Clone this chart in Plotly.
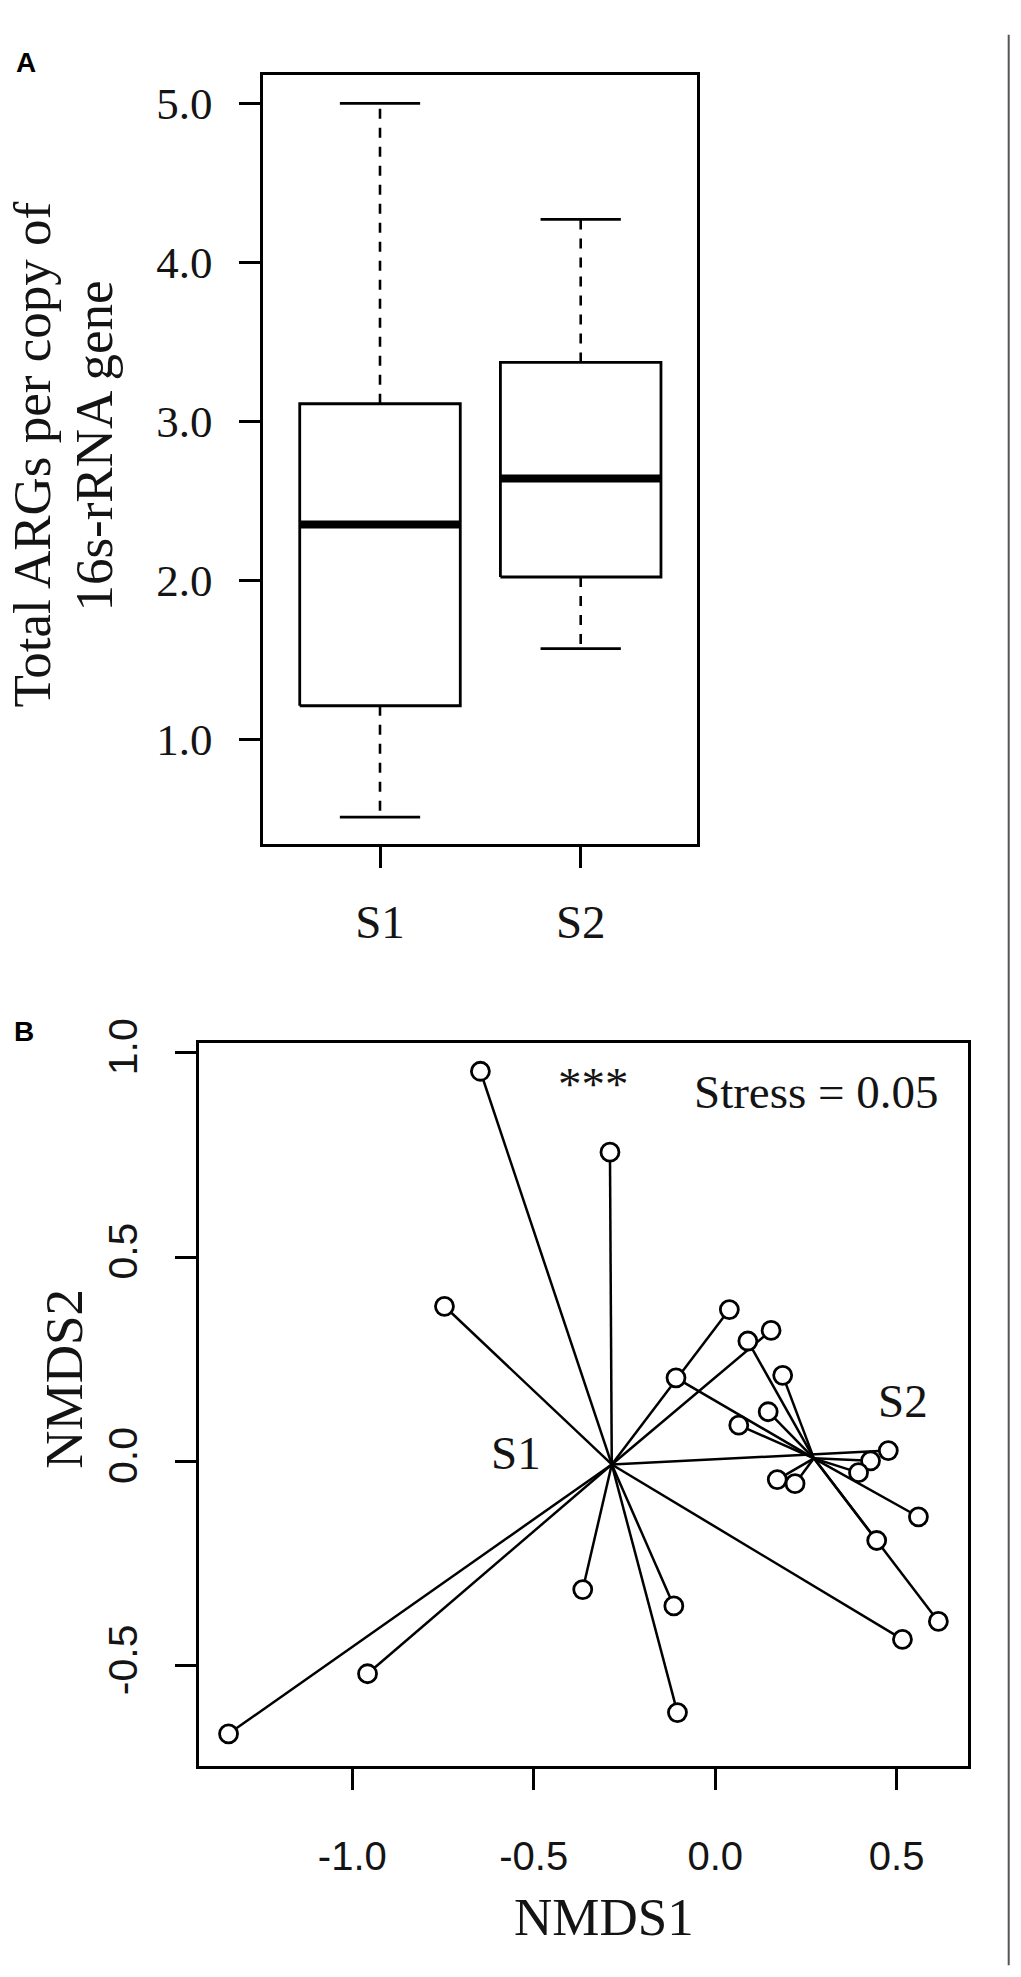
import plotly.graph_objects as go

# ---------------- Panel A data (box plot summary) ----------------
groups = ["S1", "S2"]
group_pos = [1, 2]
whisker_low = [0.51, 1.57]
q1 = [1.21, 2.02]
median = [2.35, 2.64]
q3 = [3.11, 3.37]
whisker_high = [5.00, 4.27]
a_yticks = [1.0, 2.0, 3.0, 4.0, 5.0]
a_yticklabels = ["1.0", "2.0", "3.0", "4.0", "5.0"]

# ---------------- Panel B data (NMDS) ----------------
s1_x = [-0.647, -0.290, -0.746, 0.039, 0.154, 0.477, -0.365, -0.114, 0.516, -0.958, -0.104, -1.341]
s1_y = [0.955, 0.757, 0.380, 0.372, 0.321, 0.027, -0.313, -0.353, -0.435, -0.519, -0.614, -0.666]
s2_x = [0.090, -0.108, 0.186, 0.146, 0.065, 0.428, 0.395, 0.171, 0.220, 0.560, 0.445, 0.615]
s2_y = [0.295, 0.205, 0.211, 0.122, 0.089, 0.002, -0.027, -0.044, -0.054, -0.135, -0.193, -0.391]
centroid_x = [-0.285, 0.272]
centroid_y = [-0.007, 0.008]
b_xticks = [-1.0, -0.5, 0.0, 0.5]
b_xticklabels = ["-1.0", "-0.5", "0.0", "0.5"]
b_yticks = [-0.5, 0.0, 0.5, 1.0]
b_yticklabels = ["-0.5", "0.0", "0.5", "1.0"]
group_label_x = [-0.549, 0.518]
group_label_y = [0.022, 0.149]
stress_text = "Stress = 0.05"
signif_text = "***"

W, H = 1021, 1977
SERIF = "Liberation Serif, Times New Roman, serif"
SANS = "Liberation Sans, Arial, sans-serif"
TXT = "#141414"

fig = go.Figure()

# ---- Panel A traces ----
half_box = 0.4
half_cap = 0.2
for i, c in enumerate(group_pos):
    fig.add_trace(go.Scatter(
        x=[c - half_box, c + half_box, c + half_box, c - half_box, c - half_box],
        y=[q1[i], q1[i], q3[i], q3[i], q1[i]],
        mode="lines", line=dict(color="black", width=2.8),
        xaxis="x", yaxis="y", showlegend=False, hoverinfo="skip"))
    fig.add_trace(go.Scatter(
        x=[c - half_box, c + half_box], y=[median[i], median[i]],
        mode="lines", line=dict(color="black", width=8),
        xaxis="x", yaxis="y", showlegend=False, hoverinfo="skip"))
    fig.add_trace(go.Scatter(
        x=[c, c, None, c, c], y=[q3[i], whisker_high[i], None, q1[i], whisker_low[i]],
        mode="lines", line=dict(color="black", width=2.6, dash="10px,9px"),
        xaxis="x", yaxis="y", showlegend=False, hoverinfo="skip"))
    fig.add_trace(go.Scatter(
        x=[c - half_cap, c + half_cap, None, c - half_cap, c + half_cap],
        y=[whisker_high[i], whisker_high[i], None, whisker_low[i], whisker_low[i]],
        mode="lines", line=dict(color="black", width=2.8),
        xaxis="x", yaxis="y", showlegend=False, hoverinfo="skip"))

# ---- Panel B traces ----
members = [(s1_x, s1_y), (s2_x, s2_y)]
for g, (mx, my) in enumerate(members):
    lx, ly = [], []
    for px, py in zip(mx, my):
        lx += [centroid_x[g], px, None]
        ly += [centroid_y[g], py, None]
    fig.add_trace(go.Scatter(x=lx, y=ly, mode="lines",
                             line=dict(color="black", width=2.5),
                             xaxis="x2", yaxis="y2", showlegend=False, hoverinfo="skip"))
for g, (mx, my) in enumerate(members):
    fig.add_trace(go.Scatter(x=mx, y=my, mode="markers",
                             marker=dict(symbol="circle", size=18, color="white",
                                         line=dict(color="black", width=2.8)),
                             xaxis="x2", yaxis="y2", showlegend=False, hoverinfo="skip"))


def px2paper_x(p):
    return p / W


def px2paper_y(p):
    return 1 - p / H


axis_common = dict(showgrid=False, zeroline=False, showline=True, mirror=True,
                   linecolor="black", linewidth=2.8, ticks="outside",
                   tickcolor="black", tickwidth=2.8, ticklen=21)

fig.update_layout(
    width=W, height=H,
    margin=dict(l=0, r=0, t=0, b=0),
    paper_bgcolor="white", plot_bgcolor="white",
    font=dict(family=SERIF, color=TXT),
    xaxis=dict(domain=[px2paper_x(263.3), px2paper_x(697.3)], range=[0.4185, 2.581],
               tickvals=group_pos, ticktext=groups, anchor="y",
               tickfont=dict(family=SERIF, size=47, color=TXT),
               ticklabelstandoff=14, **axis_common),
    yaxis=dict(domain=[px2paper_y(829.3), px2paper_y(51)], range=[0.3416, 5.1758],
               tickvals=a_yticks, ticktext=a_yticklabels, anchor="x",
               tickfont=dict(family=SERIF, size=45, color=TXT),
               ticklabelstandoff=18, **axis_common),
    xaxis2=dict(domain=[px2paper_x(199.3), px2paper_x(967.7)], range=[-1.4216, 0.6958],
                tickvals=b_xticks, ticktext=b_xticklabels, anchor="y2",
                tickfont=dict(family=SANS, size=40, color=TXT),
                ticklabelstandoff=32, **axis_common),
    yaxis2=dict(domain=[px2paper_y(1763.3), px2paper_y(1031)], range=[-0.7447, 1.0242],
                tickvals=b_yticks, ticktext=b_yticklabels, anchor="x2", tickangle=-90,
                tickfont=dict(family=SANS, size=41, color=TXT),
                ticklabelstandoff=22, **axis_common),
)

ann = []
ann.append(dict(text="<b>A</b>", x=px2paper_x(14), y=px2paper_y(38), xref="paper", yref="paper",
                xanchor="left", yanchor="middle", showarrow=False,
                font=dict(family=SANS, size=28, color="black")))
ann.append(dict(text="<b>B</b>", x=px2paper_x(12), y=px2paper_y(1019), xref="paper", yref="paper",
                xanchor="left", yanchor="middle", showarrow=False,
                font=dict(family=SANS, size=28, color="black")))
ann.append(dict(text="Total ARGs per copy of", x=px2paper_x(32), y=px2paper_y(435), xref="paper", yref="paper",
                textangle=-90, xanchor="center", yanchor="middle", showarrow=False,
                font=dict(family=SERIF, size=53, color=TXT)))
ann.append(dict(text="16s-rRNA gene", x=px2paper_x(94), y=px2paper_y(427), xref="paper", yref="paper",
                textangle=-90, xanchor="center", yanchor="middle", showarrow=False,
                font=dict(family=SERIF, size=53, color=TXT)))
ann.append(dict(text="NMDS1", x=px2paper_x(604), y=px2paper_y(1916), xref="paper", yref="paper",
                xanchor="center", yanchor="middle", showarrow=False,
                font=dict(family=SERIF, size=53, color=TXT)))
ann.append(dict(text="NMDS2", x=px2paper_x(64), y=px2paper_y(1371), xref="paper", yref="paper",
                textangle=-90, xanchor="center", yanchor="middle", showarrow=False,
                font=dict(family=SERIF, size=53, color=TXT)))
for g in range(2):
    ann.append(dict(text=groups[g], x=group_label_x[g], y=group_label_y[g], xref="x2", yref="y2",
                    xanchor="center", yanchor="middle", showarrow=False,
                    font=dict(family=SERIF, size=47, color=TXT)))
ann.append(dict(text=stress_text, x=0.621, y=0.905, xref="x2", yref="y2",
                xanchor="right", yanchor="middle", showarrow=False,
                font=dict(family=SERIF, size=47, color=TXT)))
ann.append(dict(text=signif_text, x=-0.336, y=0.925, xref="x2", yref="y2",
                xanchor="center", yanchor="middle", showarrow=False,
                font=dict(family=SERIF, size=47, color=TXT)))
fig.update_layout(annotations=ann)

fig.add_shape(type="line", xref="paper", yref="paper",
              x0=px2paper_x(1008.7), x1=px2paper_x(1008.7), y0=px2paper_y(10), y1=px2paper_y(1965),
              line=dict(color="#555555", width=2))

fig.write_html("out.html", config={"displayModeBar": False},
               post_script="document.body.style.margin='0px';document.body.style.overflow='hidden';")
